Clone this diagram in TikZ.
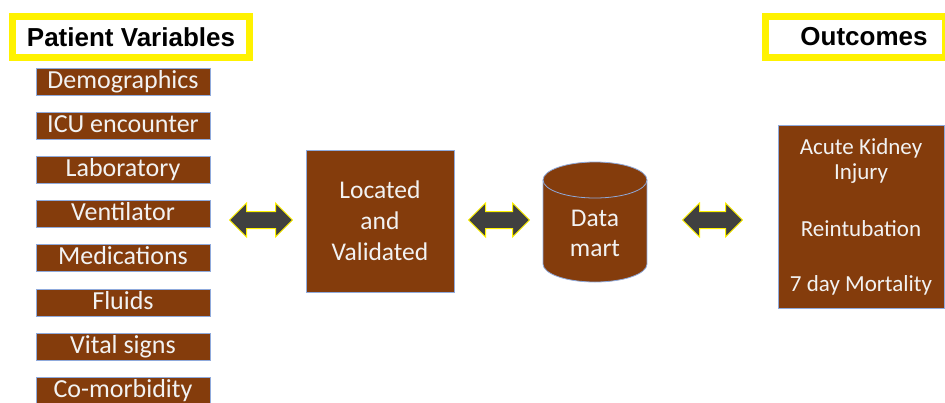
\documentclass[tikz,border=0pt]{standalone}
\usepackage{fontspec}
\setmainfont{Carlito}
\newfontfamily\headfont{Liberation Sans}
\usetikzlibrary{shapes.arrows}
\definecolor{boxbrown}{HTML}{843C0C}
\definecolor{boxedge}{HTML}{8FAADC}
\definecolor{boxtext}{HTML}{F2F2F2}
\definecolor{arrowgray}{HTML}{404040}
\tikzset{
  titlebox/.style={draw=yellow, line width=7pt, fill=white, minimum height=41pt, inner sep=0pt},
  titletext/.style={font=\headfont\bfseries\fontsize{26}{30}\selectfont, inner sep=0pt},
  varbox/.style={fill=boxbrown, draw=boxedge, line width=0.8pt, minimum width=174pt,
    minimum height=27pt, inner sep=0pt, text=boxtext, text height=16pt, text depth=3pt,
    font=\fontsize{26}{30}\selectfont},
  bigbox/.style={fill=boxbrown, draw=boxedge, line width=0.8pt, inner sep=0pt},
  boxline/.style={text=boxtext, inner sep=0pt, anchor=base, font=\fontsize{25.5}{30}\selectfont},
  outline/.style={text=boxtext, inner sep=0pt, anchor=base, font=\fontsize{23}{28}\selectfont},
  dblarrow/.style={shape=double arrow, fill=arrowgray, draw=yellow, line width=1pt,
    minimum width=33pt, double arrow head extend=8.5pt, inner xsep=0pt, inner ysep=8pt},
}
\begin{document}
\begin{tikzpicture}[x=1pt,y=-1pt]
\useasboundingbox (0,0) rectangle (945,402);

% headings
\node[titlebox, minimum width=237pt] (pvbox) at (131,37) {};
\node[titletext] (pvtext) at (131,37) {Patient Variables};
\node[titlebox, minimum width=180pt] (ocbox) at (855.5,37) {};
\node[titletext] (octext) at (864,37) {Outcomes};

% patient variable boxes
\foreach \t [count=\i] in {Demographics, ICU encounter, Laboratory, Ventilator,
                           Medications, Fluids, Vital signs, Co-morbidity}
  \node[varbox] (var\i) at (123,{81.5+44.2*(\i-1)}) {\t};

% located and validated
\node[bigbox, minimum width=148pt, minimum height=142pt] (lvbox) at (380,221) {};
\node[boxline] (lv1) at (380,198) {Located};
\node[boxline] (lv2) at (380,229) {and};
\node[boxline] (lv3) at (380,260) {Validated};

% data mart cylinder
\fill[boxbrown] (543,180) rectangle (647,264);
\fill[boxbrown] (595,264) ellipse[x radius=52, y radius=18];
\draw[boxedge, line width=0.8pt, fill=boxbrown] (595,180) ellipse[x radius=52, y radius=18];
\draw[boxedge, line width=0.8pt] (543,180) -- (543,264)
  arc[start angle=180, end angle=0, x radius=52, y radius=18] -- (647,180);
\node[boxline] (dm1) at (595,226) {Data};
\node[boxline] (dm2) at (595,256) {mart};

% outcomes box
\node[bigbox, minimum width=166pt, minimum height=183pt] (outbox) at (861,216.5) {};
\node[outline] (oc1) at (861,154.5) {Acute Kidney};
\node[outline] (oc2) at (861,179.5) {Injury};
\node[outline] (oc3) at (861,236) {Reintubation};
\node[outline] (oc4) at (861,291) {7 day Mortality};

% double arrows
\node[dblarrow, minimum height=63pt] (arr1) at (261,220) {};
\node[dblarrow, minimum height=61pt] (arr2) at (499,220) {};
\node[dblarrow, minimum height=60pt] (arr3) at (712.5,220) {};
\end{tikzpicture}
\end{document}
